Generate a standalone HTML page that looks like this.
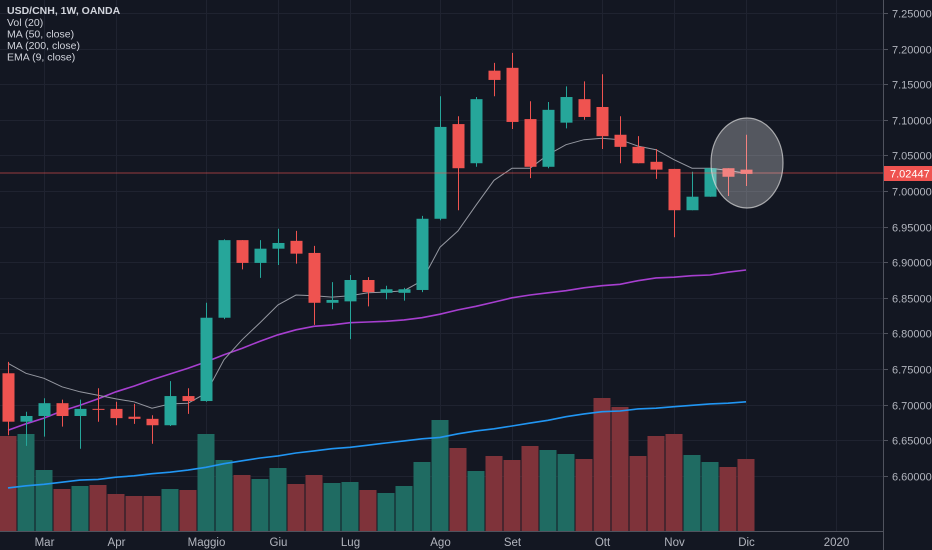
<!DOCTYPE html>
<html><head><meta charset="utf-8"><style>
html,body{margin:0;padding:0;background:#131722;}
svg{display:block;font-family:"Liberation Sans",sans-serif;}
</style></head><body>
<svg id="chart" width="932" height="550">
<rect width="932" height="550" fill="#131722"/>
<g id="grid"></g>
<g id="vol"></g>
<g id="lines"></g>
<g id="candles"></g>
<line x1="0" x2="883" y1="173" y2="173" stroke="#ef5350" stroke-width="1" opacity="0.6"/>
<ellipse cx="747" cy="163" rx="36" ry="45" fill="rgba(255,255,255,0.28)" stroke="rgba(220,220,220,0.7)" stroke-width="1.2"/>
<line x1="883.5" x2="883.5" y1="0" y2="550" stroke="#50535e"/>
<line x1="0" x2="883" y1="531.5" y2="531.5" stroke="#50535e"/>
<g id="yaxis"></g>
<g id="xaxis"></g>
<rect x="884" y="166" width="48" height="15" fill="#ef5350"/>
<text x="890" y="177.5" fill="#fff" font-size="11">7.02447</text>
<g fill="#d1d4dc" font-size="10.5">
<text x="7" y="14" font-weight="bold">USD/CNH, 1W, OANDA</text>
<text x="7" y="26">Vol (20)</text>
<text x="7" y="37.5">MA (50, close)</text>
<text x="7" y="49">MA (200, close)</text>
<text x="7" y="60.5">EMA (9, close)</text>
</g>
</svg>
<script>
const opens=[6.744,6.676,6.684,6.702,6.684,6.694,6.694,6.683,6.680,6.671,6.712,6.705,6.822,6.931,6.899,6.919,6.930,6.913,6.843,6.845,6.875,6.857,6.857,6.861,6.961,7.094,7.039,7.169,7.173,7.101,7.034,7.096,7.129,7.118,7.079,7.062,7.041,7.031,6.973,6.992,7.032,7.030];
const highs=[6.760,6.690,6.709,6.707,6.707,6.723,6.704,6.701,6.685,6.733,6.723,6.843,6.932,6.931,6.931,6.947,6.944,6.923,6.872,6.882,6.879,6.867,6.864,6.965,7.133,7.105,7.132,7.180,7.194,7.126,7.125,7.147,7.154,7.164,7.105,7.077,7.059,7.031,7.027,7.032,7.032,7.079];
const lows=[6.657,6.642,6.655,6.669,6.638,6.676,6.671,6.673,6.645,6.670,6.687,6.704,6.820,6.890,6.878,6.896,6.898,6.812,6.834,6.792,6.838,6.848,6.846,6.858,6.959,6.973,7.034,7.133,7.087,7.018,7.032,7.088,7.100,7.059,7.039,7.039,7.017,6.935,6.973,6.992,6.993,7.007];
const closes=[6.676,6.684,6.702,6.684,6.694,6.693,6.681,6.680,6.671,6.712,6.705,6.822,6.931,6.899,6.919,6.927,6.912,6.843,6.847,6.875,6.858,6.862,6.862,6.961,7.090,7.032,7.129,7.156,7.097,7.034,7.114,7.132,7.104,7.077,7.062,7.039,7.030,6.973,6.992,7.032,7.020,7.024];
const volumes=[95,97,61,42,45,46,37,35,35,42,41,97,71,56,52,63,47,56,48,49,41,38,45,69,111,83,60,75,71,85,81,77,72,133,124,75,95,97,76,69,64,72];
const ema9=[6.758,6.744,6.737,6.725,6.718,6.713,6.708,6.704,6.695,6.701,6.702,6.716,6.763,6.791,6.815,6.840,6.854,6.853,6.851,6.853,6.857,6.858,6.860,6.874,6.921,6.944,6.980,7.015,7.032,7.032,7.051,7.065,7.072,7.074,7.072,7.063,7.058,7.044,7.032,7.032,7.029,7.025];
const ma50=[6.664,6.673,6.681,6.691,6.699,6.708,6.718,6.726,6.735,6.743,6.751,6.760,6.770,6.779,6.789,6.798,6.805,6.810,6.812,6.815,6.816,6.817,6.819,6.822,6.827,6.833,6.838,6.844,6.850,6.854,6.857,6.860,6.864,6.867,6.869,6.874,6.878,6.879,6.881,6.882,6.886,6.889];
const ma200=[6.583,6.586,6.588,6.591,6.594,6.595,6.598,6.600,6.603,6.605,6.608,6.612,6.617,6.621,6.625,6.628,6.632,6.635,6.638,6.640,6.643,6.646,6.649,6.652,6.654,6.659,6.663,6.666,6.670,6.674,6.678,6.683,6.687,6.690,6.691,6.694,6.695,6.697,6.699,6.701,6.702,6.704];
const priceTicks=["7.25000","7.20000","7.15000","7.10000","7.05000","7.00000","6.95000","6.90000","6.85000","6.80000","6.75000","6.70000","6.65000","6.60000"];
const monthLabels=["Mar","Apr","Maggio","Giu","Lug","Ago","Set","Ott","Nov","Dic","2020"];
const monthWeeks=[2,6,11,15,19,24,28,33,37,41,46];

const NS="http://www.w3.org/2000/svg";
const x=i=>8+18*i;
const y=p=>13+(7.25-p)*712;
const vy=v=>531-v;
function mk(tag,attrs,parent){const e=document.createElementNS(NS,tag);for(const k in attrs)e.setAttribute(k,attrs[k]);parent.appendChild(e);return e;}
const grid=document.getElementById('grid'),vol=document.getElementById('vol'),lines=document.getElementById('lines'),cg=document.getElementById('candles'),ya=document.getElementById('yaxis'),xa=document.getElementById('xaxis');

priceTicks.forEach((t,i)=>{
  const yy=Math.round(y(parseFloat(t)))+0.5;
  const g=mk('line',{x1:0,x2:883,y1:yy,y2:yy,stroke:'#1f2330'},grid);
  
  
  const tk=mk('line',{x1:884,x2:888,y1:yy,y2:yy,stroke:'#50535e'},ya);
  
  
  const tx=mk('text',{x:892,y:yy+4,fill:'#b2b5be','font-size':11},ya);
  tx.textContent=t;
  
  
});
monthLabels.forEach((m,i)=>{
  const xx=Math.round(x(monthWeeks[i]))+0.5;
  const g=mk('line',{x1:xx,x2:xx,y1:0,y2:531,stroke:'#1f2330'},grid);
  
  
  const tx=mk('text',{x:xx,y:546,fill:'#b2b5be','font-size':11.5,'text-anchor':'middle'},xa);
  tx.textContent=m;
  
  
});

volumes.forEach((v,i)=>{
  const up=closes[i]>=opens[i];
  const r=mk('rect',{x:x(i)-8.5,y:vy(v),width:17,height:v,fill:up?'#1f6b62':'#7f333a'},vol);
  
  
});

function poly(arr,color,w,name){
  const p=mk('polyline',{points:arr.map((v,i)=>x(i)+','+y(v).toFixed(1)).join(' '),fill:'none',stroke:color,'stroke-width':w},lines);
  
  
}
poly(ma200,'#2196f3',1.6,'ma200-line');
poly(ma50,'#a73fd0',1.6,'ma50-line');
poly(ema9,'#9598a1',1,'ema9-line');

opens.forEach((o,i)=>{
  const c=closes[i],up=c>=o,col=up?'#26a69a':'#ef5350';
  const w=mk('line',{x1:x(i)+0.5,x2:x(i)+0.5,y1:y(highs[i]),y2:y(lows[i]),stroke:col,'stroke-width':1},cg);
  
  
  const top=y(Math.max(o,c)),bot=y(Math.min(o,c));
  const b=mk('rect',{x:x(i)-5.5,y:top,width:12,height:Math.max(1,bot-top),fill:col},cg);
  
  
});
</script>
</body></html>
